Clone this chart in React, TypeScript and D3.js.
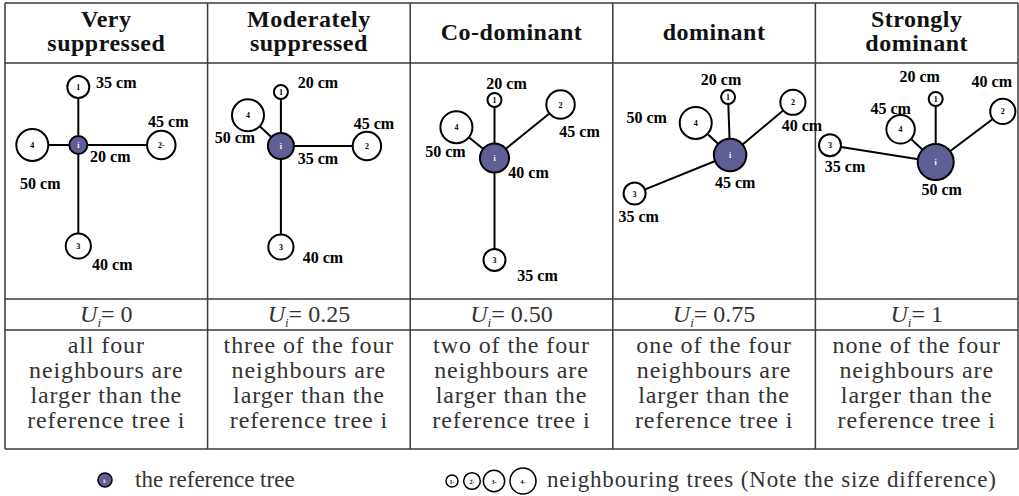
import React from 'react';
import * as d3 from 'd3';

// categories and table text
const categories = ['Very suppressed', 'Moderately suppressed', 'Co-dominant', 'dominant', 'Strongly dominant'];
const headerLines = [['Very', 'suppressed'], ['Moderately', 'suppressed'], ['Co-dominant'], ['dominant'], ['Strongly', 'dominant']];
const uValues = ['0', '0.25', '0.50', '0.75', '1'];
const descFirst = ['all four', 'three of the four', 'two of the four', 'one of the four', 'none of the four'];
const descRest = ['neighbours are', 'larger than the', 'reference tree i'];

// tree diameters (cm)
const refDiam = [20, 35, 40, 45, 50];
const n1Diam = [35, 20, 20, 20, 20];
const n2Diam = [45, 45, 45, 40, 40];
const n3Diam = [40, 40, 35, 35, 35];
const n4Diam = [50, 50, 50, 50, 45];

// neighbour distance (diagram units) and bearing (deg, clockwise from north)
const n1Dist = [58, 54, 58, 58, 63];
const n1Bearing = [0, 0, 0, 358, 0];
const n2Dist = [83, 86, 85, 82, 84];
const n2Bearing = [90, 90, 51, 50, 53];
const n3Dist = [101, 101, 102, 103, 107];
const n3Bearing = [180, 180, 180, 248, 279];
const n4Dist = [46, 45, 49, 47, 48];
const n4Bearing = [270, 313, 309, 313, 313];

const numberLabels = [['1', '2-', '3', '4'], ['1', '2', '3', '4'], ['1', '2', '3', '4'], ['1', '2', '3', '4'], ['1', '2', '3', '4']];
const legendLabels = ['1-', '2-', '3-', '4-'];
const legendDiam = [20, 30, 40, 50];

// layout (not data)
const W = 1019;
const H = 496;
const rows = [3, 63, 299, 330, 449];
const refOffset = [[-28, 145], [-28, 146], [-17, 158], [16, 155], [19, 162]];
// label offsets: [ref, n1, n2, n3, n4]
const labelOffsets = [
  [[32, 12], [38, -4], [7, -23], [34, 19], [8, 39]],
  [[37, 13], [37, -9], [7, -22], [42, 11], [-13, 23]],
  [[34, 15], [12, -16], [19, 27], [43, 16], [-11, 25]],
  [[5, 28], [-7, -17], [9, 24], [4, 23], [-49, -5]],
  [[6, 28], [-16, -22], [-11, -29], [15, 22], [-10, -20]],
];
const legendX = [452, 472, 494, 523];

const serif = '"Liberation Serif", "Times New Roman", serif';
const refFill = '#5f5f96';
const gridColor = '#3a3a3a';

const App = () => {
  const x = d3.scaleBand<string>().domain(categories).range([5, 1018]);
  const r = d3.scalePow().exponent(1.5).domain([20, 50]).range([7, 16]);
  const dist = d3.scaleLinear().domain([0, 100]).range([0, 100]);
  const legendR = d3.scaleLinear().domain([20, 50]).range([6, 13]);

  const panels = categories.map((c, i) => {
    const cx = (x(c) as number) + x.bandwidth() / 2 + refOffset[i][0];
    const cy = refOffset[i][1];
    const nb = [
      [n1Dist[i], n1Bearing[i], n1Diam[i]],
      [n2Dist[i], n2Bearing[i], n2Diam[i]],
      [n3Dist[i], n3Bearing[i], n3Diam[i]],
      [n4Dist[i], n4Bearing[i], n4Diam[i]],
    ].map(([d, b, diam], k) => {
      const a = (b * Math.PI) / 180;
      return {
        x: cx + dist(d) * Math.sin(a),
        y: cy - dist(d) * Math.cos(a),
        diam,
        label: numberLabels[i][k],
        off: labelOffsets[i][k + 1],
      };
    });
    return { c, i, cx, cy, nb };
  });

  const edges = [...categories.map((c) => x(c) as number), x.range()[1]];

  return (
    <div style={{ position: 'absolute', left: 0, top: 0 }}>
      <svg width={W} height={H} style={{ display: 'block', background: '#fff' }}>
        {/* table grid */}
        {rows.map((y) => (
          <line key={'h' + y} x1={edges[0]} x2={edges[edges.length - 1]} y1={y} y2={y} stroke={gridColor} strokeWidth={1.5} />
        ))}
        {edges.map((ex, k) => (
          <line key={'v' + k} x1={ex} x2={ex} y1={rows[0]} y2={rows[rows.length - 1]} stroke={gridColor} strokeWidth={1.5} />
        ))}

        {/* headers */}
        {categories.map((c, i) => {
          const mid = (x(c) as number) + x.bandwidth() / 2;
          const lines = headerLines[i];
          const base = lines.length === 2 ? [27, 51] : [40];
          return lines.map((t, k) => (
            <text key={c + k} x={mid} y={base[k]} textAnchor="middle" fontFamily={serif} fontWeight="bold" fontSize={24} letterSpacing={0.5} fill="#111">
              {t}
            </text>
          ));
        })}

        {/* diagrams */}
        {panels.map((p) => (
          <g key={p.c}>
            {p.nb.map((n, k) => (
              <line key={'l' + k} x1={p.cx} y1={p.cy} x2={n.x} y2={n.y} stroke="#000" strokeWidth={2} />
            ))}
            {p.nb.map((n, k) => (
              <g key={'n' + k}>
                <circle cx={n.x} cy={n.y} r={r(n.diam)} fill="#fff" stroke="#000" strokeWidth={2} />
                <text x={n.x} y={n.y + 3} textAnchor="middle" fontFamily={serif} fontWeight="bold" fontSize={8}>
                  {n.label}
                </text>
                <text x={n.x + n.off[0]} y={n.y + n.off[1] + 5} textAnchor="middle" fontFamily={serif} fontWeight="bold" fontSize={16}>
                  {n.diam} cm
                </text>
              </g>
            ))}
            <circle cx={p.cx} cy={p.cy} r={r(refDiam[p.i]) + 2} fill={refFill} stroke="#000" strokeWidth={2} />
            <text x={p.cx} y={p.cy + 3} textAnchor="middle" fontFamily={serif} fontWeight="bold" fontSize={8} fill="#fff">
              i
            </text>
            <text x={p.cx + labelOffsets[p.i][0][0]} y={p.cy + labelOffsets[p.i][0][1] + 5} textAnchor="middle" fontFamily={serif} fontWeight="bold" fontSize={16}>
              {refDiam[p.i]} cm
            </text>
          </g>
        ))}

        {/* U_i row */}
        {categories.map((c, i) => {
          const mid = (x(c) as number) + x.bandwidth() / 2;
          return (
            <text key={'u' + c} x={mid} y={322} textAnchor="middle" fontFamily={serif} fontSize={24} fill="#333">
              <tspan fontStyle="italic">U</tspan>
              <tspan fontStyle="italic" fontSize={13} dy={5}>i</tspan>
              <tspan dy={-5}>= {uValues[i]}</tspan>
            </text>
          );
        })}

        {/* descriptions */}
        {categories.map((c, i) => {
          const mid = (x(c) as number) + x.bandwidth() / 2;
          return [descFirst[i], ...descRest].map((t, k) => (
            <text key={'d' + c + k} x={mid} y={353 + k * 25} textAnchor="middle" fontFamily={serif} fontSize={24} letterSpacing={0.9} fill="#333">
              {t}
            </text>
          ));
        })}

        {/* legend */}
        <circle cx={105} cy={480} r={7} fill={refFill} stroke="#000" strokeWidth={1.5} />
        <text x={105} y={482.5} textAnchor="middle" fontFamily={serif} fontWeight="bold" fontSize={6} fill="#fff">
          i-
        </text>
        <text x={135} y={487} fontFamily={serif} fontSize={23} fill="#333">
          the reference tree
        </text>
        {legendDiam.map((d, k) => (
          <g key={'lg' + k}>
            <circle cx={legendX[k]} cy={481} r={legendR(d)} fill="#fff" stroke="#000" strokeWidth={1.5} />
            <text x={legendX[k]} y={483.5} textAnchor="middle" fontFamily={serif} fontWeight="bold" fontSize={6}>
              {legendLabels[k]}
            </text>
          </g>
        ))}
        <text x={547} y={487} fontFamily={serif} fontSize={23} letterSpacing={0.85} fill="#333">
          neighbouring trees (Note the size difference)
        </text>
      </svg>
    </div>
  );
};

export default App;
